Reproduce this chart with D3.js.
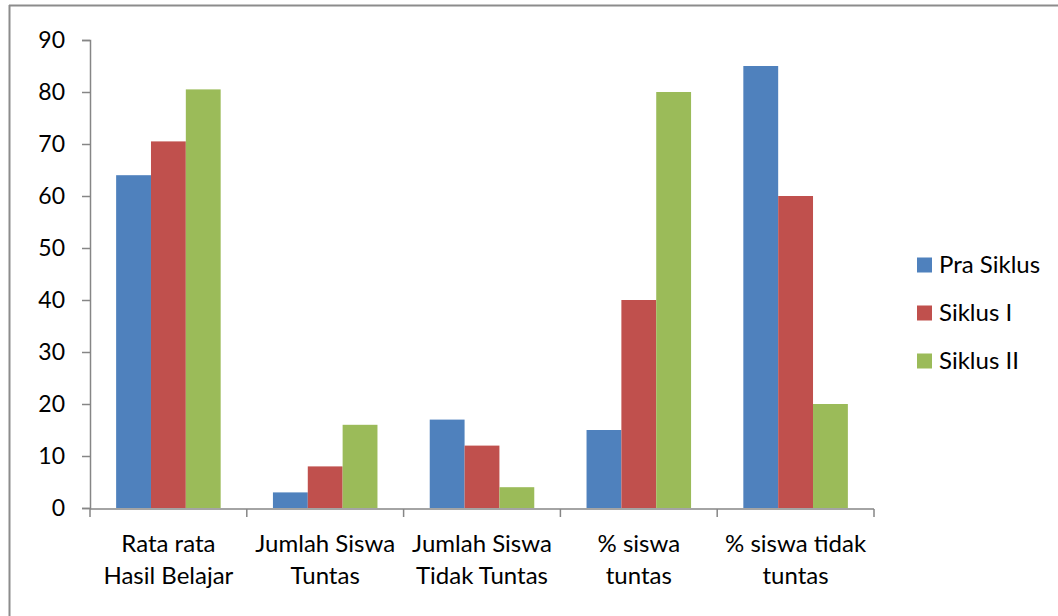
<html>
<head>
<script src="https://d3js.org/d3.v7.min.js"></script>
<style>
  body { margin: 0; background: white; }
  text { font-family: Lato, "Open Sans", sans-serif; fill: #000; }
</style>
</head>
<body>
<svg id="chart" width="1058" height="616"></svg>
<script>
const categories = [
  ["Rata rata", "Hasil Belajar"],
  ["Jumlah Siswa", "Tuntas"],
  ["Jumlah Siswa", "Tidak Tuntas"],
  ["% siswa", "tuntas"],
  ["% siswa tidak", "tuntas"]
];
const seriesNames = ["Pra Siklus", "Siklus I", "Siklus II"];
const praSiklus = [64, 3, 17, 15, 85];
const siklusI = [70.5, 8, 12, 40, 60];
const siklusII = [80.5, 16, 4, 80, 20];
const yTicks = [0, 10, 20, 30, 40, 50, 60, 70, 80, 90];
const colors = ["#4f81bd", "#c0504d", "#9bbb59"];

const series = [praSiklus, siklusI, siklusII];
const svg = d3.select("#chart");

// outer chart border (only top and left visible)
svg.append("line").attr("x1", 9).attr("x2", 1058).attr("y1", 5.5).attr("y2", 5.5)
  .attr("stroke", "#8c8c8c").attr("stroke-width", 2);
svg.append("line").attr("x1", 9.5).attr("x2", 9.5).attr("y1", 5).attr("y2", 616)
  .attr("stroke", "#8c8c8c").attr("stroke-width", 2);

const plotL = 90, plotR = 874, plotT = 40, plotB = 508;

const x = d3.scaleBand().domain(d3.range(categories.length)).range([plotL, plotR]);
const y = d3.scaleLinear().domain([0, 90]).range([plotB, plotT]);
// gap width 150% -> each bar = band / (3 + 1.5)
const barW = x.bandwidth() / 4.5;
const x1 = d3.scaleBand().domain(d3.range(3)).range([barW * 0.75, barW * 3.75]);

// bars
series.forEach((vals, s) => {
  svg.append("g").selectAll("rect").data(vals).join("rect")
    .attr("x", (d, i) => x(i) + x1(s))
    .attr("y", d => y(d))
    .attr("width", x1.bandwidth())
    .attr("height", d => y(0) - y(d))
    .attr("fill", colors[s]);
});

// y axis
const yAxis = svg.append("g").attr("transform", `translate(${plotL},0)`)
  .call(d3.axisLeft(y).tickValues(yTicks).tickSize(8).tickPadding(17));
yAxis.select(".domain").attr("stroke", "#868686").attr("stroke-width", 1.5);
yAxis.selectAll(".tick line").attr("stroke", "#868686").attr("stroke-width", 1.5);
yAxis.selectAll(".tick text").style("font-size", "23px").style("font-family", "Lato, sans-serif").attr("fill", "#000");

// x axis line and ticks at category boundaries
const xg = svg.append("g");
xg.append("line").attr("x1", plotL).attr("x2", plotR).attr("y1", y(0) + 1).attr("y2", y(0) + 1)
  .attr("stroke", "#868686").attr("stroke-width", 1.5);
const bounds = d3.range(categories.length + 1).map(i => i < categories.length ? x(i) : x(i - 1) + x.bandwidth());
xg.selectAll("line.tk").data(bounds).join("line").attr("class", "tk")
  .attr("x1", d => d).attr("x2", d => d)
  .attr("y1", y(0) + 1).attr("y2", y(0) + 9)
  .attr("stroke", "#868686").attr("stroke-width", 1.5);

// category labels
categories.forEach((lines, i) => {
  const t = svg.append("text")
    .attr("x", x(i) + x.bandwidth() / 2)
    .attr("y", 552)
    .attr("text-anchor", "middle")
    .style("font-size", "24px");
  lines.forEach((ln, k) => {
    t.append("tspan").attr("x", x(i) + x.bandwidth() / 2).attr("dy", k === 0 ? 0 : 32).text(ln);
  });
});

// legend
const legend = svg.append("g");
seriesNames.forEach((name, s) => {
  const ly = 265 + s * 48;
  legend.append("rect").attr("x", 917).attr("y", ly - 7.5).attr("width", 15).attr("height", 15).attr("fill", colors[s]);
  legend.append("text").attr("x", 939).attr("y", ly + 8).style("font-size", "24px").text(name);
});
</script>
</body>
</html>
